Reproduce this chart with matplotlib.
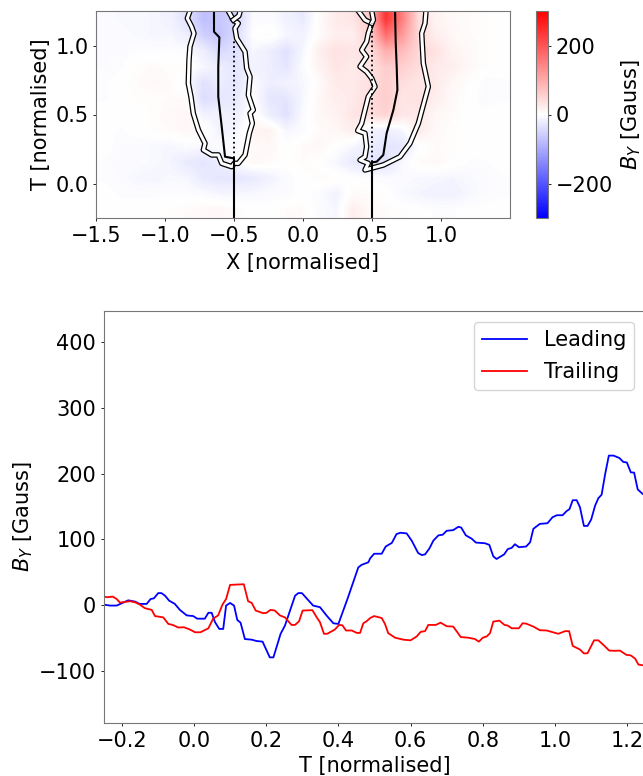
#!/usr/bin/env python3
"""Magnetogram slice over time plus leading / trailing field curves."""

import numpy as np
import matplotlib
matplotlib.use('Agg')
import matplotlib.pyplot as plt
import matplotlib.patheffects as pe

# heat map, rows run from T=1.25 down to T=-0.25, columns X=-1.5 to X=1.5
x_grid = [-1.5, 1.5]
t_grid = [-0.25, 1.25]
by_map = [
    [-5, -8, -8, -10, -15, -35, -75, -65, -50, -5, -5, -15, -25, 5, 25, 30, 60, 240, 150, 40, 15, 8, 5, 3, 0],
    [-5, -5, -8, -10, -10, -20, -55, -70, -40, 0, 5, -10, -15, 5, 20, 20, 50, 170, 120, 45, 20, 10, 5, 3, 0],
    [-5, -5, -3, -3, -3, -5, -20, -45, -35, -10, -20, -35, -10, 20, 35, 30, 35, 95, 80, 45, 35, 15, 8, 3, 0],
    [-5, -3, 3, 6, 3, 5, -10, -20, -30, -15, -20, -30, -5, 15, 30, 25, 30, 60, 55, 40, 25, 20, 8, 3, 0],
    [-3, 0, 5, 8, 5, -5, -35, -20, -30, -5, -20, -15, -10, 5, 25, 25, 35, 55, 40, 30, 25, 10, 3, -5, -3],
    [-3, 0, 3, 3, 5, 5, -40, -30, -25, 0, -30, -30, -10, 10, 20, 25, 40, 60, 30, 35, 20, 8, 0, -5, -3],
    [0, 0, 0, 3, 8, 10, -15, -15, -20, 5, -20, -35, -5, 10, 15, 30, 40, 50, 30, 25, 10, 5, 0, 0, 0],
    [0, -3, 0, 3, 5, 10, 5, -15, -10, 15, 15, -10, -5, 5, 10, 20, -15, -20, -10, 25, 8, 3, 0, 0, 0],
    [0, -5, -5, -8, -10, -5, -8, -5, -5, 5, 10, 0, 5, 10, 0, -10, -20, -30, -30, -3, 5, 3, 0, 0, 0],
    [-3, -5, -5, -8, -12, -25, -30, -20, -5, 10, 5, 0, 5, 0, -10, -25, -30, -35, -8, 5, 8, 3, -3, -3, 0],
    [-3, -5, -10, -12, -8, -10, -25, -30, -30, -25, -15, -5, 0, 5, 3, 0, -3, -5, -5, -8, -10, -12, -8, -5, -3],
    [0, -3, -3, -3, -3, -3, -5, -10, -10, -8, -5, -5, 0, -5, -15, 5, 5, 0, -8, -12, -15, -15, -10, -5, -3],
    [0, 0, 0, 0, 3, 5, 8, 10, 5, 0, 0, 5, 5, -5, -10, 20, 8, 5, 3, 0, -3, -3, 0, 0, 0],
]

# outlined contours
left_x = [-0.819, -0.838, -0.807, -0.790, -0.819, -0.826, -0.831, -0.812, -0.795, -0.758, -0.710, -0.722, -0.662,
          -0.614, -0.589, -0.517, -0.498, -0.469, -0.420, -0.389, -0.367, -0.384, -0.360, -0.396, -0.384, -0.408,
          -0.420, -0.481, -0.493, -0.469, -0.505, -0.541]
left_t = [1.25, 1.197, 1.136, 1.088, 0.992, 0.895, 0.726, 0.629, 0.508, 0.388, 0.291, 0.243, 0.207,
          0.207, 0.146, 0.122, 0.146, 0.146, 0.207, 0.364, 0.436, 0.508, 0.533, 0.641, 0.774, 0.835,
          0.955, 1.052, 1.124, 1.161, 1.185, 1.25]
left_curl_x = [-0.505, -0.465, -0.455]
left_curl_t = [1.185, 1.215, 1.25]
right_x = [0.401, 0.449, 0.498, 0.473, 0.461, 0.425, 0.461, 0.413, 0.461, 0.498, 0.522, 0.473, 0.449, 0.425, 0.396,
           0.449, 0.461, 0.449, 0.413, 0.473, 0.449, 0.582, 0.703, 0.775, 0.836, 0.908, 0.872, 0.860, 0.884, 0.891]
right_t = [1.25, 1.185, 1.161, 1.088, 1.028, 0.967, 0.919, 0.847, 0.810, 0.762, 0.702, 0.629, 0.533, 0.436, 0.383,
           0.364, 0.267, 0.194, 0.170, 0.146, 0.098, 0.134, 0.194, 0.291, 0.436, 0.702, 0.871, 1.088, 1.161, 1.25]
right_curl_x = [0.498, 0.510, 0.498]
right_curl_t = [1.161, 1.185, 1.25]

# plain black tracks, last point joins the vertical at X = +-0.5
track_l_x = [-0.645, -0.645, -0.606, -0.614, -0.614, -0.589, -0.565, -0.5, -0.5]
track_l_t = [1.25, 1.10, 1.059, 0.847, 0.629, 0.412, 0.194, 0.182, -0.25]
track_r_x = [0.667, 0.672, 0.679, 0.684, 0.655, 0.606, 0.582, 0.534, 0.5, 0.5]
track_r_t = [1.25, 1.016, 0.847, 0.677, 0.533, 0.364, 0.207, 0.158, 0.153, -0.25]
dotted_l_x = [-0.5, -0.5]
dotted_l_t = [0.182, 1.04]
dotted_r_x = [0.5, 0.5]
dotted_r_t = [0.153, 1.16]

# lower panel
lead_t = [-0.25, -0.233, -0.214, -0.200, -0.182, -0.163, -0.150, -0.131, -0.120, -0.111, -0.099, -0.090, -0.080,
          -0.069, -0.053, -0.039, -0.020, -0.002, 0.009, 0.030, 0.040, 0.049, 0.058, 0.070, 0.081, 0.089, 0.100,
          0.111, 0.120, 0.129, 0.141, 0.160, 0.173, 0.190, 0.210, 0.220, 0.240, 0.252, 0.280, 0.289, 0.299, 0.312,
          0.330, 0.349, 0.367, 0.386, 0.400, 0.427, 0.455, 0.464, 0.483, 0.488, 0.499, 0.520, 0.531, 0.548, 0.561,
          0.572, 0.589, 0.603, 0.621, 0.631, 0.640, 0.652, 0.663, 0.677, 0.689, 0.700, 0.718, 0.732, 0.740, 0.753,
          0.769, 0.781, 0.806, 0.818, 0.829, 0.838, 0.859, 0.869, 0.880, 0.889, 0.900, 0.920, 0.931, 0.940, 0.958,
          0.979, 0.993, 1.005, 1.021, 1.032, 1.040, 1.049, 1.060, 1.069, 1.080, 1.090, 1.100, 1.111, 1.120, 1.129,
          1.139, 1.149, 1.162, 1.178, 1.189, 1.199, 1.210, 1.219, 1.229, 1.243, 1.25]
lead_b = [0.5, -1, -1, 2.5, 7, 5, 1.5, 1.5, 9, 10, 18, 18, 14,
          6.6, 1.5, -7.6, -16, -17, -21, -21, -12, -12, -26, -36.6, -36.6, -1, 3,
          -1, -23, -27, -52, -53, -55, -56, -80, -80, -44, -31.5, 14, 18, 18, 10,
          -1, -3.5, -16, -28, -29, 12, 57, 61, 65, 71, 78, 78, 89, 94.5, 108,
          110, 109, 98, 79, 76, 77, 86, 98, 106, 107, 113, 114, 119, 118, 106,
          101, 95, 94, 91.5, 74, 70, 77, 85, 87, 92.5, 88, 89, 95.5, 116, 123.5,
          124.5, 133.6, 136.7, 136.7, 143, 146, 159.6, 159.6, 149, 120.4, 120.4, 130, 151.4, 162.6, 168,
          200, 227.6, 227.6, 224, 218, 217, 202, 201.7, 176, 169, 168]
trail_t = [-0.25, -0.240, -0.225, -0.214, -0.205, -0.191, -0.177, -0.163, -0.150, -0.136, -0.117, -0.108, -0.085,
           -0.071, -0.059, -0.043, -0.028, -0.011, 0.003, 0.018, 0.040, 0.053, 0.067, 0.079, 0.089, 0.100, 0.118,
           0.138, 0.150, 0.160, 0.171, 0.192, 0.201, 0.212, 0.224, 0.238, 0.252, 0.270, 0.280, 0.291, 0.301, 0.328,
           0.340, 0.349, 0.360, 0.369, 0.390, 0.402, 0.411, 0.421, 0.437, 0.451, 0.460, 0.469, 0.478, 0.488, 0.499,
           0.520, 0.529, 0.538, 0.557, 0.580, 0.600, 0.617, 0.628, 0.640, 0.649, 0.670, 0.683, 0.700, 0.718, 0.739,
           0.760, 0.778, 0.789, 0.800, 0.811, 0.820, 0.829, 0.846, 0.860, 0.869, 0.880, 0.900, 0.910, 0.920, 0.940,
           0.958, 0.977, 1.009, 1.028, 1.039, 1.049, 1.069, 1.080, 1.090, 1.108, 1.120, 1.134, 1.150, 1.166, 1.180,
           1.197, 1.210, 1.222, 1.231, 1.243, 1.25]
trail_b = [12.7, 11.7, 12.7, 9, 3.5, 4.6, 5.6, 4, 0.5, -5, -7.6, -17, -19,
           -29, -30.5, -34.5, -34, -37.6, -41.7, -41.7, -35.6, -21, -16, 0.5, 9, 30.5, 31,
           31.5, 5.6, 3, -8.6, -12.7, -12, -7.6, -8.6, -16, -19, -30.5, -30.5, -25, -8.6, -8,
           -19, -26.4, -44, -44, -37.6, -30.5, -31, -39, -39, -42.7, -42.7, -28, -25, -20, -17,
           -20, -29, -43, -50, -53, -54, -48, -41, -40, -30.5, -30.5, -27, -32.5, -33, -49,
           -50, -52, -56, -50, -48, -43, -25.4, -24, -30.5, -31.5, -35.6, -35.6, -28, -28.5, -33,
           -38.6, -39, -44, -40, -40, -62.5, -68, -74, -73.7, -54, -54, -61, -69.6, -70, -69.6,
           -76, -77, -82, -91, -92, -92]

W, H = 643, 776
FS = 15
SPINE = '#777777'


def px_axes(fig, left, top, right, bottom):
    return fig.add_axes([left / W, 1 - bottom / H, (right - left) / W, (bottom - top) / H])


plt.rcParams['font.size'] = FS
fig = plt.figure(figsize=(W / 100, H / 100), dpi=100)

# top panel
ax = px_axes(fig, 96, 11, 510, 218)
im = ax.imshow(np.array(by_map), cmap='bwr', vmin=-300, vmax=300, aspect='auto',
               extent=[x_grid[0], x_grid[1], t_grid[0], t_grid[1]], interpolation='bilinear')
outline = [pe.Stroke(linewidth=4.0, foreground='black'), pe.Stroke(linewidth=2.2, foreground='white')]
for cx, ct in [(left_x, left_t), (left_curl_x, left_curl_t), (right_x, right_t), (right_curl_x, right_curl_t)]:
    ax.plot(cx, ct, color='white', lw=2.2, path_effects=outline)
ax.plot(track_l_x, track_l_t, color='black', lw=1.5)
ax.plot(track_r_x, track_r_t, color='black', lw=1.5)
ax.plot(dotted_l_x, dotted_l_t, color='black', lw=1.3, ls=':')
ax.plot(dotted_r_x, dotted_r_t, color='black', lw=1.3, ls=':')
ax.set_xlim(-1.5, 1.5)
ax.set_ylim(-0.25, 1.25)
ax.set_xticks([-1.5, -1.0, -0.5, 0.0, 0.5, 1.0])
ax.set_yticks([0.0, 0.5, 1.0])
ax.set_xlabel('X [normalised]', labelpad=5)
ax.set_ylabel('T [normalised]', labelpad=3)

cax = px_axes(fig, 536, 11, 548, 218)
cbar = fig.colorbar(im, cax=cax)
cbar.set_ticks([-200, 0, 200])
cbar.set_label('$B_Y$ [Gauss]', labelpad=5)
cbar.outline.set_edgecolor(SPINE)

# bottom panel, runs slightly past the right edge of the figure
ax2 = px_axes(fig, 103.7, 311, 645.3, 723)
ax2.plot(lead_t, lead_b, color='blue', lw=1.3, label='Leading')
ax2.plot(trail_t, trail_b, color='red', lw=1.3, label='Trailing')
ax2.set_xlim(-0.25, 1.25)
ax2.set_ylim(-180, 448)
ax2.set_xticks([-0.2, 0.0, 0.2, 0.4, 0.6, 0.8, 1.0, 1.2])
ax2.set_yticks([-100, 0, 100, 200, 300, 400])
ax2.set_xlabel('T [normalised]', labelpad=4)
ax2.set_ylabel('$B_Y$ [Gauss]', labelpad=3)
ax2.legend(loc='upper right', fontsize=FS, handlelength=2.16, borderaxespad=0.53, labelspacing=0.55)

for a in [ax, ax2, cax]:
    for s in a.spines.values():
        s.set_edgecolor(SPINE)
    a.tick_params(length=2.5, width=0.6, pad=3)

fig.savefig('out.png', dpi=100)
